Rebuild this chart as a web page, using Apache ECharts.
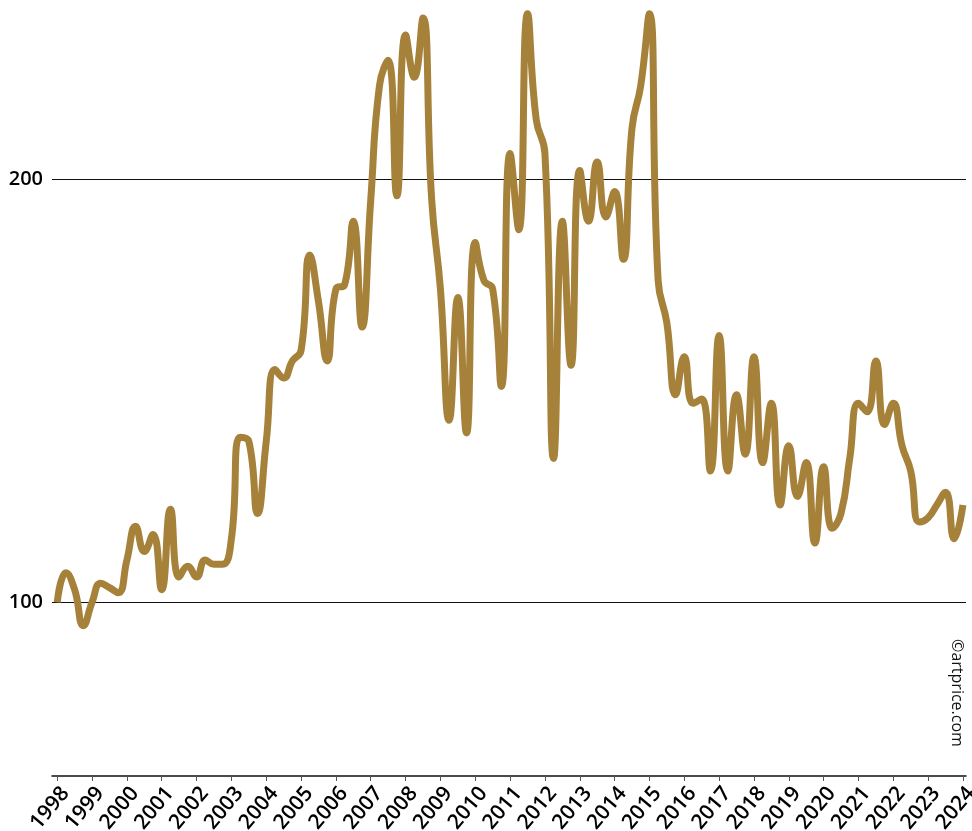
<!DOCTYPE html>
<html>
<head>
<meta charset="utf-8">
<script src="https://cdn.jsdelivr.net/npm/echarts@6/dist/echarts.min.js"></script>
<style>
  html, body { margin: 0; padding: 0; background: #fff; }
  #chart { width: 972px; height: 831px; }
</style>
</head>
<body>
<div id="chart"></div>
<script>
// year labels, one every 4 quarters
const years = [1998, 1999, 2000, 2001, 2002, 2003, 2004, 2005, 2006, 2007, 2008, 2009, 2010,
  2011, 2012, 2013, 2014, 2015, 2016, 2017, 2018, 2019, 2020, 2021, 2022, 2023, 2024]

// quarterly index, base 100 in 1998
const indexValues = [
  100, 107, 103, 94.5, 100, 104.5, 103.5, 102.3, 110, 118,
  112, 116, 103, 122, 106, 108.5, 106, 110, 109, 109,
  115, 139, 138, 121, 138, 155, 153, 157, 159.5, 182,
  171, 157, 174, 175, 190, 165, 195, 222, 228, 196,
  234, 224, 238, 195, 174, 143, 172, 140, 185, 176,
  174, 151, 206, 188, 239, 214, 206, 134, 190, 156,
  202, 190, 204, 191, 197, 181, 212, 222, 239, 176,
  166, 149, 158, 147, 148, 131, 163, 131, 149, 135,
  158, 133, 147, 123, 137, 125, 133, 114, 132, 117.5,
  121, 134, 147, 145, 157, 142, 147, 137, 131, 119,
  120, 123, 126, 115, 123
]

const yTicks = [100, 200]

const yearTicks = years.map((y, k) => k * 4)
const seriesData = indexValues.map((v, i) => [i, v])

const chart = echarts.init(document.getElementById('chart'))

chart.setOption({
  animation: false,
  backgroundColor: '#fff',
  grid: { left: 52, right: 6, top: 1, bottom: 55, containLabel: false, outerBoundsMode: 'none' },
  xAxis: {
    type: 'value',
    min: -0.6,
    max: 104.35,
    splitLine: { show: false },
    axisLine: { show: true, lineStyle: { color: '#111', width: 1.5 } },
    axisTick: {
      show: true,
      customValues: yearTicks,
      length: 5,
      lineStyle: { color: '#555', width: 1 }
    },
    axisLabel: {
      customValues: yearTicks,
      rotate: 50,
      margin: 7,
      verticalAlign: 'top',
      hideOverlap: false,
      fontFamily: 'Open Sans',
      fontSize: 21,
      fontWeight: 600,
      color: '#000',
      formatter: (v) => String(years[Math.round(v / 4)])
    }
  },
  yAxis: {
    type: 'value',
    min: 59,
    max: 242,
    axisLine: { show: false },
    axisTick: { show: false, customValues: yTicks },
    axisLabel: {
      customValues: yTicks,
      margin: 9,
      fontFamily: 'Open Sans',
      fontSize: 20,
      fontWeight: 600,
      color: '#000'
    },
    splitLine: { show: true, lineStyle: { color: '#111', width: 1 } }
  },
  series: [
    {
      type: 'line',
      data: seriesData,
      smooth: 0.5,
      showSymbol: false,
      lineStyle: { color: '#a6813a', width: 7 },
      itemStyle: { color: '#a6813a' }
    }
  ],
  graphic: [
    {
      type: 'text',
      x: 957,
      y: 693,
      rotation: -Math.PI / 2,
      style: {
        text: '©artprice.com',
        fontFamily: 'Open Sans',
        fontSize: 16,
        fill: '#111',
        align: 'center',
        verticalAlign: 'middle'
      }
    }
  ]
})
</script>
</body>
</html>
